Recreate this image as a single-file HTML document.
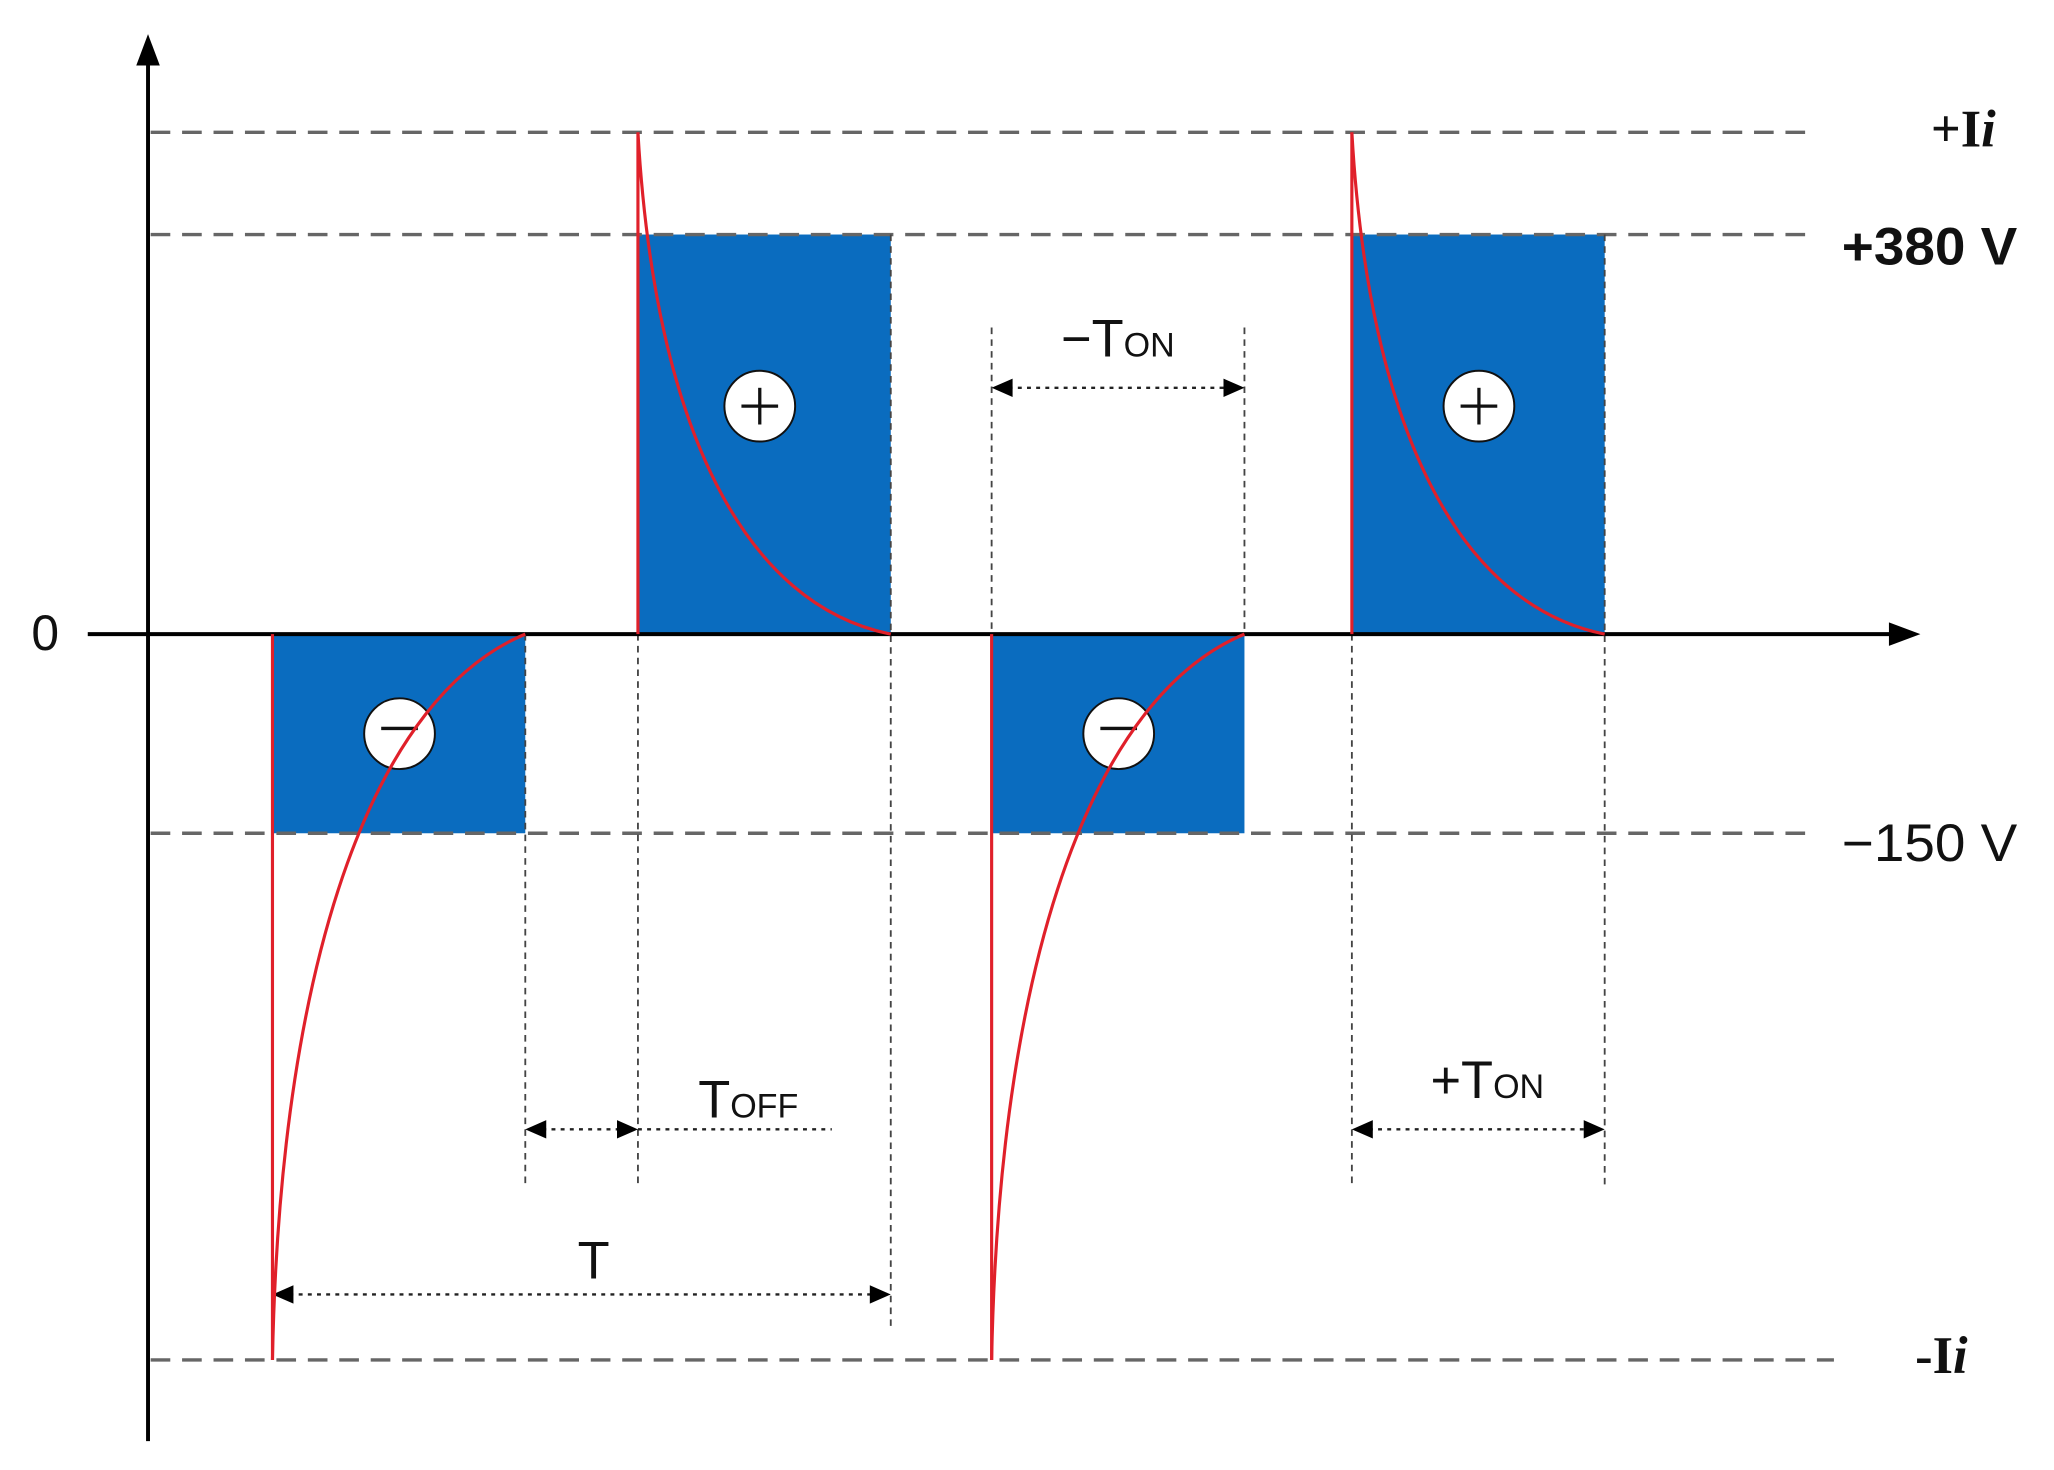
<!DOCTYPE html>
<html><head><meta charset="utf-8"><style>html,body{margin:0;padding:0;background:#fff}svg{display:block}</style></head>
<body>
<svg width="2054" height="1470" viewBox="0 0 1568 1122" preserveAspectRatio="none" xmlns="http://www.w3.org/2000/svg">
<g fill="#0a6cbf">
<rect x="208" y="484" width="193" height="152"/>
<rect x="487" y="179" width="193" height="305"/>
<rect x="757" y="484" width="193" height="152"/>
<rect x="1032" y="179" width="193" height="305"/>
</g>
<g stroke="#666" stroke-width="2.6" stroke-dasharray="15,9" fill="none">
<line x1="115" y1="101" x2="1380" y2="101"/>
<line x1="115" y1="179" x2="1380" y2="179"/>
<line x1="115" y1="636" x2="1380" y2="636"/>
<line x1="115" y1="1038" x2="1400" y2="1038"/>
</g>
<g stroke="#444" stroke-width="1.4" stroke-dasharray="5,4" fill="none">
<line x1="401" y1="484" x2="401" y2="905"/>
<line x1="487" y1="484" x2="487" y2="905"/>
<line x1="680" y1="179" x2="680" y2="1012"/>
<line x1="757" y1="250" x2="757" y2="484"/>
<line x1="950" y1="250" x2="950" y2="484"/>
<line x1="1032" y1="484" x2="1032" y2="905"/>
<line x1="1225" y1="179" x2="1225" y2="905"/>
</g>
<g stroke="#222" stroke-width="1.8" stroke-dasharray="3,4" fill="none">
<line x1="770" y1="296" x2="937" y2="296"/>
<line x1="414" y1="862" x2="474" y2="862"/>
<line x1="487" y1="862" x2="635" y2="862"/>
<line x1="221" y1="988" x2="667" y2="988"/>
<line x1="1045" y1="862" x2="1212" y2="862"/>
</g>
<g fill="#000">
<path d="M757,296 l16,-7 v14 z"/><path d="M950,296 l-16,-7 v14 z"/>
<path d="M401,862 l16,-7 v14 z"/><path d="M487,862 l-16,-7 v14 z"/>
<path d="M208,988 l16,-7 v14 z"/><path d="M680,988 l-16,-7 v14 z"/>
<path d="M1032,862 l16,-7 v14 z"/><path d="M1225,862 l-16,-7 v14 z"/>
</g>
<line x1="113" y1="40" x2="113" y2="1100" stroke="#000" stroke-width="3"/>
<path d="M113,26 l-9,24 h18 z" fill="#000"/>
<line x1="67" y1="484" x2="1450" y2="484" stroke="#000" stroke-width="3"/>
<path d="M1466,484 l-24,-9 v18 z" fill="#000"/>
<g fill="#fff" stroke="#111" stroke-width="1.5">
<circle cx="580" cy="310" r="27"/><circle cx="1129" cy="310" r="27"/>
<circle cx="305" cy="560" r="27"/><circle cx="854" cy="560" r="27"/>
</g>
<g stroke="#111" stroke-width="2.5">
<line x1="566" y1="310" x2="594" y2="310"/><line x1="580" y1="296" x2="580" y2="324"/>
<line x1="1115" y1="310" x2="1143" y2="310"/><line x1="1129" y1="296" x2="1129" y2="324"/>
<line x1="291" y1="556" x2="319" y2="556"/>
<line x1="840" y1="556" x2="868" y2="556"/>
</g>
<g stroke="#e0202a" stroke-width="2.4" fill="none">
<line x1="208" y1="484" x2="208" y2="1038"/>
<path d="M208,1038 C214,720 290,530 401,484"/>
<line x1="487" y1="101" x2="487" y2="484"/>
<path d="M487,101 C500,330 570,462 680,484"/>
<line x1="757" y1="484" x2="757" y2="1038"/>
<path d="M757,1038 C763,720 839,530 950,484"/>
<line x1="1032" y1="101" x2="1032" y2="484"/>
<path d="M1032,101 C1045,330 1115,462 1225,484"/>
</g>
<g font-family="Liberation Sans, sans-serif" fill="#111">
<text x="24" y="496" font-size="38">0</text>
<text x="1406" y="202" font-size="40" font-weight="bold" textLength="134" lengthAdjust="spacingAndGlyphs">+380 V</text>
<text x="1406" y="657" font-size="40" textLength="134" lengthAdjust="spacingAndGlyphs">−150 V</text>
<text x="810" y="272" font-size="40">−T<tspan font-size="26">ON</tspan></text>
<text x="533" y="853" font-size="40">T<tspan font-size="26">OFF</tspan></text>
<text x="441" y="976" font-size="40">T</text>
<text x="1092" y="838" font-size="40">+T<tspan font-size="26">ON</tspan></text>
</g>
<g font-family="Liberation Serif, serif" font-weight="bold" fill="#111" font-size="40">
<text x="1474" y="112">+I<tspan font-style="italic">i</tspan></text>
<text x="1462" y="1048">-I<tspan font-style="italic">i</tspan></text>
</g>
</svg>
</body></html>
